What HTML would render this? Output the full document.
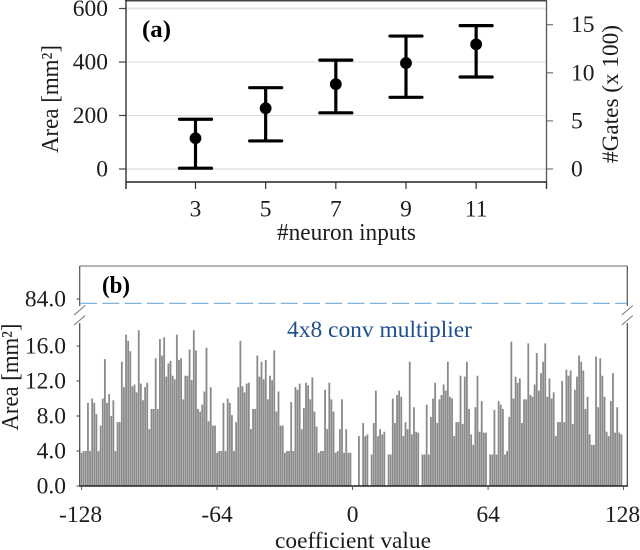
<!DOCTYPE html>
<html>
<head>
<meta charset="utf-8">
<style>
html,body{margin:0;padding:0;background:#fff;width:640px;height:550px;overflow:hidden}
svg{display:block;font-family:"Liberation Serif",serif}
text{fill:#1c1c1c}
</style>
</head>
<body>
<svg id="fig" width="640" height="550" viewBox="0 0 640 550" xmlns="http://www.w3.org/2000/svg">
<g id="pa"></g>
<g id="pb"></g>
<text x="142" y="37" font-size="24" font-weight="bold" textLength="29" lengthAdjust="spacingAndGlyphs" style="fill:#000">(a)</text>
<text transform="translate(58,99) rotate(-90)" text-anchor="middle" font-size="24" textLength="108" lengthAdjust="spacingAndGlyphs">Area [mm²]</text>
<text transform="translate(618,94) rotate(-90)" text-anchor="middle" font-size="23" textLength="138" lengthAdjust="spacingAndGlyphs">#Gates (x 100)</text>
<text x="346.5" y="240" text-anchor="middle" font-size="24" textLength="139" lengthAdjust="spacingAndGlyphs">#neuron inputs</text>
<text x="102" y="293" font-size="24" font-weight="bold" textLength="28" lengthAdjust="spacingAndGlyphs" style="fill:#000">(b)</text>
<text x="287" y="337" font-size="23" textLength="185" lengthAdjust="spacingAndGlyphs" style="fill:#1f4e8c">4x8 conv multiplier</text>
<text transform="translate(18,377) rotate(-90)" text-anchor="middle" font-size="24" textLength="107" lengthAdjust="spacingAndGlyphs">Area [mm²]</text>
<text x="353" y="548" text-anchor="middle" font-size="23" textLength="156" lengthAdjust="spacingAndGlyphs">coefficient value</text>
</svg>
<script>
const neuronInputs = [3, 5, 7, 9, 11];
const areaMean = [115, 227, 317, 396, 466];
const areaLow = [3, 105, 210, 268, 344];
const areaHigh = [186, 304, 407, 497, 536];
const areaTicks = [0, 200, 400, 600];
const gateTicks = [0, 5, 10, 15];
const coefTicks = [-128, -64, 0, 64, 128];
const lowerTicks = [0, 4, 8, 12, 16];
const upperTicks = [84];
const multiplierArea = [83.5];
const coefStart = [-128];
const coefArea = [
3.8,4,4,9.5,4,10,9.5,8.2,4,6.9,10,14.5,9.5,10.5,8,9.8,
4,7.3,7.3,14.2,11.3,17.3,16.6,15.4,11.4,11.6,10.7,17.8,11.7,9.8,11.3,11.8,
6.5,8.8,8.8,14.6,8.8,16.8,14.9,17,12.5,14,14.3,12.6,12.2,17.3,14.4,14.6,
9.9,12.6,12.6,15.6,12.1,17.8,15.5,8.8,8.5,9.3,10.8,15.8,7.4,11.3,6.9,6.9,
3.8,4,4,9.5,4,10,9.5,8.1,4,7.3,11.3,16.6,11.4,10.7,11.7,11.8,
6.5,8.8,8.8,14.9,12.5,14.2,12.2,14.4,9.9,12.6,12.1,15.5,8.5,10.8,6.9,6.9,
3.8,4,4,9.6,4,11.3,11,11.7,6.5,8.9,11.8,11.5,9.9,12.4,8.5,6.8,
3.8,4,4,11,6.5,11.8,9.9,8.5,3.8,4,6.5,9.9,3.8,6.5,3.8,3.8,
0,0,0,5.7,0,7.2,5.7,5.9,0,3.6,7.2,10.9,5.7,6.5,5.9,6.2,
0,3.6,3.6,10,7.2,10.4,10.9,10.2,5.7,7.3,6.5,14.2,5.9,9,6.2,6.1,
0,3.6,3.6,9.3,3.6,7.9,10,11.8,7.2,9.9,10.4,11.6,10.9,14.2,10.2,10,
5.7,7.3,7.3,12.6,7.1,12.5,14.2,8.8,5.9,4.7,9,12.6,6.2,9.7,6.1,6.1,
0,3.6,3.6,8.7,3.6,9.7,9.3,8.8,3.6,4,7.9,16.5,10,12.5,11.8,12.3,
7.2,9.9,9.9,16.3,10.4,10.2,11.6,15.2,10.9,12.9,14.2,16.3,10.2,12.3,10,10.7,
5.7,7.3,7.3,12,7.3,13.3,12.6,13.2,7.1,11,12.5,14.9,14.2,13.2,8.8,10.2,
5.9,4.7,4.7,14.8,9,14.6,12.6,10.2,6.2,5.7,9.7,12.9,6.1,9,6.1,5.9
];

const NS = 'http://www.w3.org/2000/svg';
function make(parent, tag, attrs, txt) {
  const el = document.createElementNS(NS, tag);
  for (const k in attrs) el.setAttribute(k, attrs[k]);
  if (txt !== undefined) el.textContent = txt;
  parent.appendChild(el);
  return el;
}
const xA = v => 195.5 + (v - 3) * 35.08;
const yArea = v => 169 - v * 0.2675;
const yGate = v => 169 - v * 9.62;
const xB = v => 81.6 + (v + 128) * 2.117;
const yB = v => 486 - v * 8.75;
const yU = v => 299 + (84 - v) * 8.75;

const pa = document.getElementById('pa');
const pb = document.getElementById('pb');

/* Panel (a) grid */
areaTicks.forEach(t => {
  const thick = t === 0 || t === 600;
  const g = make(pa, 'line', {x1: 126, x2: 546, y1: yArea(t), y2: yArea(t), stroke: thick ? '#e8e8e8' : '#dcdcdc', 'stroke-width': thick ? 2 : 1});
  
  
  const k = make(pa, 'line', {x1: 119, x2: 126, y1: yArea(t), y2: yArea(t), stroke: '#444', 'stroke-width': 1.2});
  
  
  const l = make(pa, 'text', {x: 108, y: yArea(t) + 7.5, 'text-anchor': 'end', 'font-size': 23.5}, t);
  
  
});
gateTicks.forEach(t => {
  const k = make(pa, 'line', {x1: 546, x2: 553, y1: yGate(t), y2: yGate(t), stroke: '#777', 'stroke-width': 1.2});
  
  
  const l = make(pa, 'text', {x: 571, y: yGate(t) + 7.5, 'font-size': 23.5}, t);
  
  
});
/* Panel (a) frame */
const aTop = make(pa, 'line', {x1: 125, x2: 547, y1: 0.5, y2: 0.5, stroke: '#444', 'stroke-width': 2});


const aLeft = make(pa, 'line', {x1: 126, x2: 126, y1: 0, y2: 189, stroke: '#333', 'stroke-width': 1.4});


const aRight = make(pa, 'line', {x1: 546.5, x2: 546.5, y1: 0, y2: 189, stroke: '#555', 'stroke-width': 1.3});


const aBot = make(pa, 'line', {x1: 126, x2: 547, y1: 182, y2: 182, stroke: '#222', 'stroke-width': 1.6});


/* Panel (a) x ticks and error bars */
neuronInputs.forEach((n, i) => {
  const x = xA(n);
  const k = make(pa, 'line', {x1: x, x2: x, y1: 182, y2: 189, stroke: '#333', 'stroke-width': 1.2});
  
  
  const l = make(pa, 'text', {x: x, y: 216.5, 'text-anchor': 'middle', 'font-size': 23.5}, n);
  
  
  const stem = make(pa, 'line', {x1: x, x2: x, y1: yArea(areaHigh[i]), y2: yArea(areaLow[i]), stroke: '#000', 'stroke-width': 3.2});
  
  
  const capH = make(pa, 'line', {x1: x - 16, x2: x + 16, y1: yArea(areaHigh[i]), y2: yArea(areaHigh[i]), stroke: '#000', 'stroke-width': 3.2, 'stroke-linecap': 'round'});
  
  
  const capL = make(pa, 'line', {x1: x - 16, x2: x + 16, y1: yArea(areaLow[i]), y2: yArea(areaLow[i]), stroke: '#000', 'stroke-width': 3.2, 'stroke-linecap': 'round'});
  
  
  const dot = make(pa, 'circle', {cx: x, cy: yArea(areaMean[i]), r: 5.9, fill: '#000'});
  
  
});
[126, 546.5].forEach(x => {
  const k = make(pa, 'line', {x1: x, x2: x, y1: 182, y2: 189, stroke: '#333', 'stroke-width': 1.2});
  
  
});

/* Panel (b) bars */
coefArea.forEach((v, i) => {
  if (v <= 0) return;
  const x = xB(coefStart[0] + i);
  const r = make(pb, 'rect', {x: x - 0.9, y: yB(v), width: 1.8, height: yB(0) - yB(v), fill: '#8a8a8a'});
  
  
});
/* Panel (b) frame */
const bTop = make(pb, 'line', {x1: 79.5, x2: 627.5, y1: 266, y2: 266, stroke: '#888', 'stroke-width': 1.3});


[[79.7, 'left'], [627.3, 'right']].forEach(s => {
  const up = make(pb, 'line', {x1: s[0], x2: s[0], y1: 266, y2: 306, stroke: '#555', 'stroke-width': 1.2});
  
  
  const lo = make(pb, 'line', {x1: s[0], x2: s[0], y1: 323, y2: 486, stroke: '#444', 'stroke-width': 1.2});
  
  
  [[305.5, 315], [315.5, 325]].forEach(b => {
    const sl = make(pb, 'line', {x1: s[0] - 5.5, x2: s[0] + 5.5, y1: b[1], y2: b[0], stroke: '#777', 'stroke-width': 1});
    
    
  });
});
const bBot = make(pb, 'line', {x1: 79, x2: 628, y1: 486, y2: 486, stroke: '#222', 'stroke-width': 1.5});


const ref = make(pb, 'line', {x1: 80, x2: 627, y1: yU(multiplierArea[0]), y2: yU(multiplierArea[0]), stroke: '#7fb3dc', 'stroke-width': 1.2, 'stroke-dasharray': '17 5.3'});


lowerTicks.forEach(t => {
  const k = make(pb, 'line', {x1: 76.5, x2: 80, y1: yB(t), y2: yB(t), stroke: '#444', 'stroke-width': 1});
  
  
  const l = make(pb, 'text', {x: 66, y: yB(t) + 7.5, 'text-anchor': 'end', 'font-size': 23.5}, t.toFixed(1));
  
  
});
upperTicks.forEach(t => {
  const k = make(pb, 'line', {x1: 76.5, x2: 80, y1: yU(t), y2: yU(t), stroke: '#444', 'stroke-width': 1});
  
  
  const l = make(pb, 'text', {x: 66, y: yU(t) + 7.5, 'text-anchor': 'end', 'font-size': 23.5}, t.toFixed(1));
  
  
});
coefTicks.forEach(t => {
  const x = xB(t);
  const k = make(pb, 'line', {x1: x, x2: x, y1: 486, y2: 490, stroke: '#555', 'stroke-width': 1});
  
  
  const l = make(pb, 'text', {x: t === -128 || t === 128 ? x - 1 : x, y: 522, 'text-anchor': 'middle', 'font-size': 23.5}, t);
  
  
});
</script>
</body>
</html>
